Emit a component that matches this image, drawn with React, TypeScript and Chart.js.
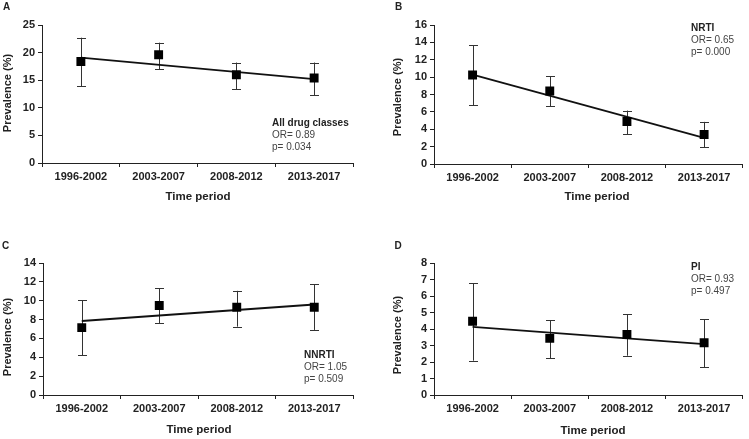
import React, { useEffect, useRef } from "react";
import { Chart, registerables } from "chart.js";

Chart.register(...registerables);

const periods = ["1996-2002", "2003-2007", "2008-2012", "2013-2017"];

const allValues = [18.4, 19.6, 16.0, 15.4];
const allLower = [13.9, 17.0, 13.4, 12.3];
const allUpper = [22.7, 21.8, 18.2, 18.2];
const allTrend = [19.1, null, null, 15.2];
const allYTicks = { max: 25, step: 5 };
const allNote = ["All drug classes", "OR= 0.89", "p= 0.034"];

const nrtiValues = [10.25, 8.4, 4.9, 3.4];
const nrtiLower = [6.75, 6.65, 3.4, 1.9];
const nrtiUpper = [13.65, 10.1, 6.15, 4.85];
const nrtiTrend = [10.3, null, null, 3.0];
const nrtiYTicks = { max: 16, step: 2 };
const nrtiNote = ["NRTI", "OR= 0.65", "p= 0.000"];

const nnrtiValues = [7.15, 9.5, 9.3, 9.3];
const nnrtiLower = [4.2, 7.6, 7.25, 6.9];
const nnrtiUpper = [10.05, 11.3, 11.05, 11.75];
const nnrtiTrend = [7.85, null, null, 9.6];
const nnrtiYTicks = { max: 14, step: 2 };
const nnrtiNote = ["NNRTI", "OR= 1.05", "p= 0.509"];

const piValues = [4.47, 3.43, 3.67, 3.17];
const piLower = [2.08, 2.24, 2.38, 1.67];
const piUpper = [6.77, 4.52, 4.88, 4.6];
const piTrend = [4.13, null, null, 3.08];
const piYTicks = { max: 8, step: 1 };
const piNote = ["PI", "OR= 0.93", "p= 0.497"];

const FONT = "'Liberation Sans', Arial, Helvetica, sans-serif";

const decorPlugin = {
  id: "decor",
  beforeDatasetsDraw(chart: any, _args: any, opts: any) {
    const { ctx } = chart;
    const x = chart.scales.x;
    const y = chart.scales.y;
    ctx.save();
    ctx.strokeStyle = "#333";
    ctx.lineWidth = 1;
    opts.lower.forEach((lo: number, i: number) => {
      const hi = opts.upper[i];
      const px = Math.round(x.getPixelForValue(i)) + 0.5;
      const yl = y.getPixelForValue(lo);
      const yh = y.getPixelForValue(hi);
      ctx.beginPath();
      ctx.moveTo(px, yl);
      ctx.lineTo(px, yh);
      ctx.moveTo(px - 4.5, Math.round(yl) + 0.5);
      ctx.lineTo(px + 4.5, Math.round(yl) + 0.5);
      ctx.moveTo(px - 4.5, Math.round(yh) + 0.5);
      ctx.lineTo(px + 4.5, Math.round(yh) + 0.5);
      ctx.stroke();
    });
    ctx.restore();
  },
  afterDraw(chart: any, _args: any, opts: any) {
    const { ctx } = chart;
    ctx.save();
    ctx.fillStyle = "#222";
    ctx.textBaseline = "middle";
    // panel letter
    ctx.font = `bold 10px ${FONT}`;
    ctx.textAlign = "center";
    ctx.fillText(opts.letter, opts.letterPos[0], opts.letterPos[1]);
    // x title
    ctx.font = `bold 11.5px ${FONT}`;
    ctx.fillText("Time period", opts.xTitle[0], opts.xTitle[1]);
    // y title
    ctx.save();
    ctx.translate(opts.yTitle[0], opts.yTitle[1]);
    ctx.rotate(-Math.PI / 2);
    ctx.font = `bold 11px ${FONT}`;
    ctx.fillText("Prevalence (%)", 0, 0);
    ctx.restore();
    // annotation
    ctx.textAlign = "left";
    opts.note.forEach((t: string, i: number) => {
      ctx.font = i === 0 ? `bold 10px ${FONT}` : `10px ${FONT}`;
      ctx.fillStyle = i === 0 ? "#222" : "#444";
      ctx.fillText(t, opts.notePos[0], opts.notePos[1] + i * 12);
    });
    ctx.restore();
  },
};

type PanelCfg = {
  left: number;
  top: number;
  w: number;
  h: number;
  area: { l: number; r: number; t: number; b: number };
  values: number[];
  lower: number[];
  upper: number[];
  trend: (number | null)[];
  yTicks: { max: number; step: number };
  note: string[];
  notePos: [number, number];
  letter: string;
  letterPos: [number, number];
  xTitle: [number, number];
  yTitle: [number, number];
};

function Panel({ cfg }: { cfg: PanelCfg }) {
  const ref = useRef<HTMLCanvasElement | null>(null);
  useEffect(() => {
    if (!ref.current) return;
    const axisColor = "#222";
    const chart = new Chart(ref.current, {
      type: "line",
      data: {
        labels: periods,
        datasets: [
          {
            data: cfg.values,
            showLine: false,
            pointStyle: "rect",
            pointRadius: 6.3,
            pointBackgroundColor: "#000",
            pointBorderWidth: 0,
            borderColor: "#000",
            order: 0,
          },
          {
            data: cfg.trend,
            spanGaps: true,
            borderColor: "#111",
            borderWidth: 1.8,
            pointRadius: 0,
            order: 1,
          },
        ],
      },
      options: {
        animation: false,
        responsive: false,
        maintainAspectRatio: false,
        layout: {
          padding: { top: cfg.area.t, right: cfg.w - cfg.area.r, left: 0, bottom: 0 },
        },
        plugins: {
          legend: { display: false },
          tooltip: { enabled: false },
          decor: {
            lower: cfg.lower,
            upper: cfg.upper,
            note: cfg.note,
            notePos: cfg.notePos,
            letter: cfg.letter,
            letterPos: cfg.letterPos,
            xTitle: cfg.xTitle,
            yTitle: cfg.yTitle,
          },
        } as any,
        scales: {
          x: {
            type: "category",
            offset: true,
            grid: {
              offset: true,
              drawOnChartArea: false,
              drawTicks: true,
              tickLength: 4,
              color: axisColor,
            },
            border: { display: true, color: axisColor, width: 1 },
            ticks: {
              color: "#222",
              padding: 3,
              maxRotation: 0,
              font: { family: FONT, size: 11, weight: "bold" },
            },
            afterFit: (s: any) => {
              s.height = cfg.h - cfg.area.b;
            },
          },
          y: {
            min: 0,
            max: cfg.yTicks.max,
            grid: {
              drawOnChartArea: false,
              drawTicks: true,
              tickLength: 4,
              color: axisColor,
            },
            border: { display: true, color: axisColor, width: 1 },
            ticks: {
              stepSize: cfg.yTicks.step,
              color: "#222",
              padding: 3,
              font: { family: FONT, size: 11, weight: "bold" },
            },
            afterFit: (s: any) => {
              s.width = cfg.area.l;
            },
          },
        },
      } as any,
      plugins: [decorPlugin as any],
    });
    return () => chart.destroy();
  }, []);
  return (
    <canvas
      ref={ref}
      width={cfg.w}
      height={cfg.h}
      style={{ position: "absolute", left: cfg.left, top: cfg.top, width: cfg.w, height: cfg.h }}
    />
  );
}

const panels: PanelCfg[] = [
  {
    left: 0, top: 0, w: 375, h: 220,
    area: { l: 42, r: 353, t: 25, b: 163 },
    values: allValues, lower: allLower, upper: allUpper, trend: allTrend, yTicks: allYTicks,
    note: allNote, notePos: [272, 123], letter: "A", letterPos: [6.5, 7.5],
    xTitle: [198, 197], yTitle: [8, 93],
  },
  {
    left: 375, top: 0, w: 374, h: 220,
    area: { l: 59, r: 369, t: 25, b: 164 },
    values: nrtiValues, lower: nrtiLower, upper: nrtiUpper, trend: nrtiTrend, yTicks: nrtiYTicks,
    note: nrtiNote, notePos: [316, 28.5], letter: "B", letterPos: [23.5, 7],
    xTitle: [222, 197], yTitle: [23, 97],
  },
  {
    left: 0, top: 220, w: 375, h: 219,
    area: { l: 43, r: 353, t: 43, b: 175 },
    values: nnrtiValues, lower: nnrtiLower, upper: nnrtiUpper, trend: nnrtiTrend, yTicks: nnrtiYTicks,
    note: nnrtiNote, notePos: [304, 135], letter: "C", letterPos: [5.5, 26.5],
    xTitle: [199, 210], yTitle: [8, 117],
  },
  {
    left: 375, top: 220, w: 374, h: 219,
    area: { l: 59, r: 369, t: 43, b: 175 },
    values: piValues, lower: piLower, upper: piUpper, trend: piTrend, yTicks: piYTicks,
    note: piNote, notePos: [316, 47], letter: "D", letterPos: [23, 26],
    xTitle: [218, 211], yTitle: [23, 115],
  },
];

export default function App() {
  return (
    <div style={{ position: "absolute", left: 0, top: 0, width: 749, height: 439, background: "#fff" }}>
      {panels.map((p, i) => (
        <Panel key={i} cfg={p} />
      ))}
    </div>
  );
}
